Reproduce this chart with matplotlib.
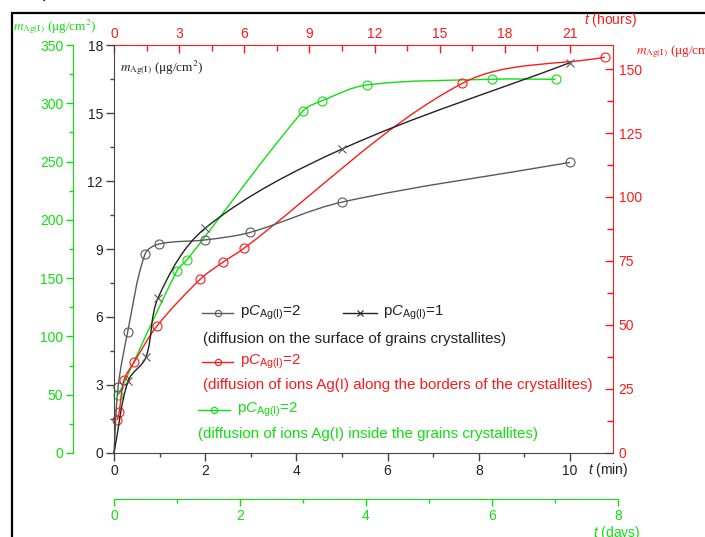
import numpy as np
import matplotlib
matplotlib.use('Agg')
import matplotlib.pyplot as plt
from matplotlib.path import Path
from matplotlib.patches import PathPatch, Rectangle
from matplotlib.lines import Line2D

plt.rcParams['font.family'] = ['Liberation Sans', 'DejaVu Sans']
plt.rcParams['mathtext.fontset'] = 'custom'
plt.rcParams['mathtext.rm'] = 'Liberation Sans'
plt.rcParams['mathtext.it'] = 'Liberation Sans:italic'

# surface diffusion, pC=2 (t in min, m in ug/cm2)
surf2_t = [0, 0.09, 0.30, 0.68, 0.99, 2.0, 2.98, 5.0, 10.0]
surf2_m = [0, 2.92, 5.34, 8.77, 9.22, 9.40, 9.73, 11.07, 12.82]
# surface diffusion, pC=1
surf1_t = [0, 0.31, 0.70, 0.97, 2.0, 5.0, 10.0]
surf1_m = [0, 3.18, 4.22, 6.86, 9.92, 13.41, 17.22]
# borders of crystallites (t in hours)
bord_t = [0.15, 0.24, 0.46, 0.94, 1.98, 3.96, 5.01, 5.99, 16.04, 22.6]
bord_m = [12.9, 16.1, 28.5, 35.7, 49.6, 67.8, 74.5, 80.0, 144.4, 154.6]
# inside grains (t in days)
grain_t = [0.07, 1.0, 1.16, 3.0, 3.30, 4.01, 6.0, 7.01]
grain_m = [49.8, 156.4, 165.8, 293.4, 302.1, 315.7, 320.6, 320.6]

RED = '#ff1a1a'
GREEN = '#10e010'
GRAY = '#5a5a5a'
DARK = '#222222'

W, H = 705, 537
PT = 72 / 100  # points per pixel
def fx(px):
    return px / W
def fy(py):
    return 1 - py / H

fig = plt.figure(figsize=(W / 100, H / 100), dpi=100)
rect = [fx(114), 84 / H, 499 / W, 408 / H]

# green axes (days, left-outer axis)
axg = fig.add_axes([fx(114), 84 / H, 504 / W, 408 / H], facecolor='none')
axg.set_xlim(0, 8)
axg.set_ylim(0, 350)
for s in ['top', 'right']:
    axg.spines[s].set_visible(False)
axg.spines['left'].set_position(('outward', 41 * PT))
axg.spines['bottom'].set_position(('outward', 46 * PT))
for s in ['left', 'bottom']:
    axg.spines[s].set_color(GREEN)
axg.set_xticks([0, 2, 4, 6, 8])
axg.set_xticks([1, 3, 5, 7], minor=True)
axg.set_yticks(np.arange(0, 351, 50))
axg.set_yticks(np.arange(25, 350, 50), minor=True)
axg.tick_params(colors=GREEN, labelsize=10, length=5, width=1, pad=2)
axg.tick_params(which='minor', colors=GREEN, length=3, width=1)

# red axes (hours, top/right)
axr = fig.add_axes(rect, facecolor='none')
axr.set_xlim(0, 499 / 45.6 * 2.1)
axr.set_ylim(0, 408 / 2.56)
axr.xaxis.tick_top()
axr.yaxis.tick_right()
for s in ['left', 'bottom']:
    axr.spines[s].set_visible(False)
for s in ['top', 'right']:
    axr.spines[s].set_color(RED)
axr.set_xticks(np.arange(0, 22, 3))
axr.set_xticks(np.arange(1.5, 22, 3), minor=True)
axr.set_yticks(np.arange(0, 151, 25))
axr.set_yticks(np.arange(12.5, 159, 25), minor=True)
axr.tick_params(colors=RED, labelsize=10, direction='in', length=6, width=1, pad=4)
axr.tick_params(axis='x', pad=3)
axr.tick_params(which='minor', colors=RED, direction='in', length=4, width=1)

# main axes (min)
ax = fig.add_axes(rect, facecolor='none')
ax.set_xlim(0, 499 / 45.6)
ax.set_ylim(0, 18)
for s in ['top', 'right']:
    ax.spines[s].set_visible(False)
for s in ['left', 'bottom']:
    ax.spines[s].set_color('#444444')
ax.set_xticks([0, 2, 4, 6, 8, 10])
ax.set_xticks([1, 3, 5, 7, 9], minor=True)
ax.set_yticks(np.arange(0, 19, 3))
ax.set_yticks(np.arange(1.5, 18, 3), minor=True)
ax.tick_params(colors='#444444', labelcolor='#222222', labelsize=10, length=6, width=1, pad=2)
ax.tick_params(which='minor', colors='#444444', length=3, width=1)


def smooth(a, x, y, color, lw=1.0):
    # smooth curve through the points, built in screen space
    pts = a.transData.transform(np.column_stack([x, y]))
    n = len(pts)
    tang = np.zeros_like(pts)
    tang[1:-1] = pts[2:] - pts[:-2]
    tang[0] = pts[1] - pts[0]
    tang[-1] = pts[-1] - pts[-2]
    tang /= np.linalg.norm(tang, axis=1)[:, None]
    verts = [pts[0]]
    codes = [Path.MOVETO]
    for i in range(n - 1):
        d = np.linalg.norm(pts[i + 1] - pts[i]) / 3
        verts += [pts[i] + tang[i] * d, pts[i + 1] - tang[i + 1] * d, pts[i + 1]]
        codes += [Path.CURVE4] * 3
    verts = a.transData.inverted().transform(np.array(verts))
    a.add_patch(PathPatch(Path(verts, codes), fill=False, ec=color, lw=lw, clip_on=False))


smooth(ax, surf2_t, surf2_m, GRAY)
ax.plot(surf2_t[1:], surf2_m[1:], 'o', mfc='none', mec=GRAY, ms=6.5, mew=0.8, clip_on=False)
smooth(ax, surf1_t, surf1_m, DARK)
ax.plot(surf1_t[1:], surf1_m[1:], 'x', color=GRAY, ms=6, mew=0.8, clip_on=False)
smooth(axr, bord_t, bord_m, RED)
axr.plot(bord_t, bord_m, 'o', mfc='none', mec=RED, ms=6.5, mew=0.8, clip_on=False)
smooth(axg, grain_t, grain_m, GREEN)
axg.plot(grain_t, grain_m, 'o', mfc='none', mec=GREEN, ms=6.5, mew=0.8, clip_on=False)

# axis titles
mlab = r'$m_{\mathrm{Ag(I)}}$ (μg/cm$^{2}$)'
fig.text(fx(120), fy(68), mlab, family='Liberation Serif',
         math_fontfamily='stix', fontsize=9.5, va='center', color='#222222')
fig.text(fx(13), fy(27), mlab, family='Liberation Serif',
         math_fontfamily='stix', fontsize=9.5, va='center', color=GREEN)
fig.text(fx(636), fy(51), mlab, family='Liberation Serif',
         math_fontfamily='stix', fontsize=9.5, va='center', color=RED)
fig.text(fx(610), fy(20), r'$t$ (hours)', fontsize=10, ha='center', va='center', color=RED)
fig.text(fx(608), fy(470), r'$t$ (min)', fontsize=10, ha='center', va='center', color='#222222')
fig.text(fx(617), fy(533), r'$t$ (days)', fontsize=10, ha='center', va='center', color=GREEN)

# legend block
def leg_line(x0, x1, y, color, marker):
    xm = (x0 + x1) / 2
    fig.add_artist(Line2D([fx(x0), fx(xm), fx(x1)], [fy(y)] * 3, transform=fig.transFigure,
                          color=color, lw=1, marker=marker, markevery=[1], ms=4.5,
                          mfc='none', mec=color, mew=0.8))

FS = 10.9
lab2 = r'p$C_{\mathrm{Ag(I)}}$=2'
lab1 = r'p$C_{\mathrm{Ag(I)}}$=1'
leg_line(202, 233, 313, GRAY, 'o')
fig.text(fx(240), fy(313), lab2, fontsize=FS, va='center', color='#222222')
leg_line(343, 377, 313, DARK, 'x')
fig.text(fx(383), fy(313), lab1, fontsize=FS, va='center', color='#222222')
fig.text(fx(203), fy(339), '(diffusion on the surface of grains crystallites)', fontsize=FS,
         va='center', color='#222222')
leg_line(202, 233, 362, RED, 'o')
fig.text(fx(240), fy(362), lab2, fontsize=FS, va='center', color=RED)
fig.text(fx(203), fy(385), '(diffusion of ions Ag(I) along the borders of the crystallites)',
         fontsize=FS, va='center', color=RED)
leg_line(198, 230, 410, GREEN, 'o')
fig.text(fx(237), fy(410), lab2, fontsize=FS, va='center', color=GREEN)
fig.text(fx(198), fy(434), '(diffusion of ions Ag(I) inside the grains crystallites)',
         fontsize=FS, va='center', color=GREEN)

# outer frame and the stray dot
fig.add_artist(Rectangle((fx(12), -0.1), 1.2, fy(13) + 0.1, transform=fig.transFigure,
                         fill=False, ec='black', lw=1.6, clip_on=False))
fig.text(fx(44), fy(4), '.', fontsize=12, ha='center', va='bottom', color='black')

fig.savefig('out.png', dpi=100)
